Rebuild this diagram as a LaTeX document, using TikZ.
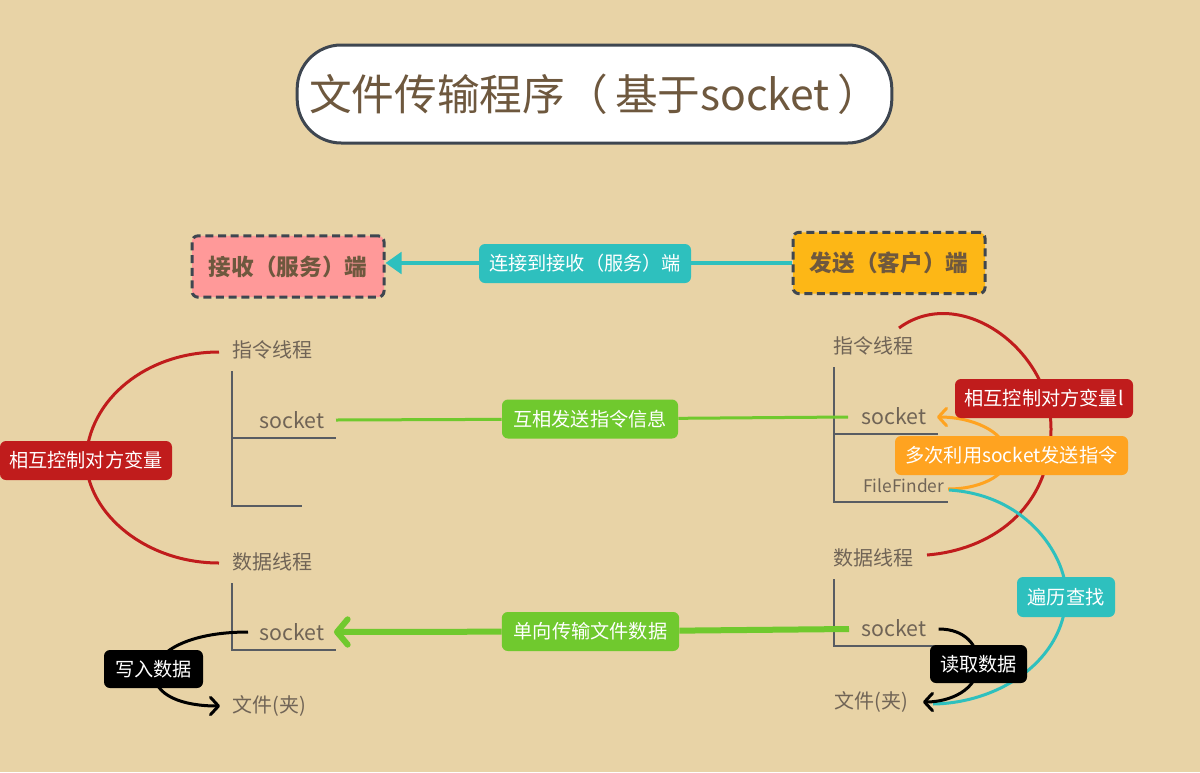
\documentclass[tikz,border=0pt]{standalone}
\usepackage{fontspec}
\setmainfont{Noto Sans CJK SC}
\usetikzlibrary{arrows.meta}
\pgfdeclarelayer{bg}
\pgfsetlayers{bg,main}
\definecolor{bgc}{RGB}{232,211,166}
\definecolor{brownt}{RGB}{110,88,62}
\definecolor{treet}{RGB}{112,100,86}
\definecolor{treel}{RGB}{88,92,98}
\definecolor{bordc}{RGB}{62,70,80}
\definecolor{pinkc}{RGB}{255,153,153}
\definecolor{yelc}{RGB}{253,183,22}
\definecolor{tealc}{RGB}{46,192,190}
\definecolor{greenc}{RGB}{112,201,46}
\definecolor{redc}{RGB}{192,28,28}
\definecolor{orangec}{RGB}{255,163,32}
\tikzset{
  lbl/.style={rounded corners=4.5pt, text=white, inner sep=0pt,
    font=\fontsize{14.4pt}{16pt}\selectfont, minimum height=29.25pt},
  endbox/.style={rounded corners=4.5pt, draw=bordc, line width=2.25pt,
    dash pattern=on 6pt off 3.5pt, inner sep=0pt, text=brownt,
    font=\fontsize{17pt}{20pt}\selectfont\bfseries, minimum width=144pt, minimum height=46pt},
  treetxt/.style={text=treet, inner sep=0pt, font=\fontsize{15pt}{18pt}\selectfont},
  socktxt/.style={text=treet, inner sep=0pt, font=\fontsize{16pt}{18pt}\selectfont},
  treeline/.style={draw=treel, line width=1.5pt},
  conn/.style={line width=2.25pt},
  barb/.style={-{Straight Barb[length=6pt,width=13pt,round]}}
}
\begin{document}
\begin{tikzpicture}[x=0.75pt,y=-0.75pt]
\useasboundingbox (0,0) rectangle (1200,772);
% title
\node[draw=bordc, line width=2.25pt, fill=white, rounded corners=33pt,
  minimum width=446pt, minimum height=73.5pt, inner sep=0pt, text=brownt,
  font=\fontsize{32pt}{36pt}\selectfont] (title) at (594.5,94) {文件传输程序（\,基于socket\,）};
% end boxes
\node[endbox, fill=pinkc] (recv) at (288,266.5) {接收（服务）端};
\node[endbox, fill=yelc] (send) at (889,263) {发送（客户）端};
\node[lbl, fill=tealc, minimum width=159pt] (conlbl) at (585,263.5) {连接到接收（服务）端};
% left tree
\node[treetxt, anchor=west] (Lcmd) at (232,350) {指令线程};
\node[socktxt] (Lsock1) at (292,420) {socket};
\node[treetxt, anchor=west] (Ldata) at (232,562) {数据线程};
\node[socktxt] (Lsock2) at (292,632) {socket};
\node[treetxt, anchor=west] (Lfile) at (232,706) {文件(夹)};
% right tree
\node[treetxt, anchor=west] (Rcmd) at (833,346) {指令线程};
\node[socktxt] (Rsock1) at (894,416) {socket};
\node[text=treet, inner sep=0pt, anchor=west, font=\fontsize{13pt}{15pt}\selectfont] (Rff) at (863,486) {FileFinder};
\node[treetxt, anchor=west] (Rdata) at (833,558) {数据线程};
\node[socktxt] (Rsock2) at (894,628) {socket};
\node[treetxt, anchor=west] (Rfile) at (834,702) {文件(夹)};
% labels
\node[lbl, fill=greenc, minimum width=132pt] (g1lbl) at (590,419) {互相发送指令信息};
\node[lbl, fill=greenc, minimum width=133pt] (g2lbl) at (590.5,631.5) {单向传输文件数据};
\node[lbl, fill=redc, minimum width=129pt] (redL) at (86,460.5) {相互控制对方变量};
\node[lbl, fill=black, minimum width=74.25pt, minimum height=28.5pt] (blkL) at (153.5,669) {写入数据};
\node[lbl, fill=redc, minimum width=133.5pt] (redR) at (1044,398.5) {相互控制对方变量l};
\node[lbl, fill=orangec, minimum width=174.75pt] (orgR) at (1011.5,455.5) {多次利用socket发送指令};
\node[lbl, fill=tealc, minimum width=73.5pt, minimum height=30pt] (tealR) at (1066,597) {遍历查找};
\node[lbl, fill=black, minimum width=72.75pt, minimum height=28.5pt] (blkR) at (978.5,664) {读取数据};
% coordinates for free ends
\coordinate (g1a) at (848,417);
\coordinate (g1b) at (336,420);
\coordinate (g2a) at (849,629);
\coordinate (g2b) at (334,632);
\coordinate (wL) at (248,632);
\coordinate (fL) at (220,706);
\begin{pgfonlayer}{bg}
\fill[bgc] (0,0) rectangle (1200,772);
% tree lines
\draw[treeline] (232,371) -- (232,506) -- (302,506);
\draw[treeline] (232,438) -- (336,438);
\draw[treeline] (232,583) -- (232,650) -- (336,650);
\draw[treeline] (834,367) -- (834,502) -- (948,502);
\draw[treeline] (834,434) -- (938,434);
\draw[treeline] (834,579) -- (834,646) -- (938,646);
% connectors
\draw[tealc, line width=3pt, -{Triangle[length=12pt,width=16pt]}] (send.west) -- (recv.east |- send.west);
\draw[greenc, line width=2.25pt] (g1a) -- (g1lbl) -- (g1b);
\draw[greenc, line width=4.5pt, -{Straight Barb[length=8pt,width=19pt,round]}] (g2a) -- (g2lbl) -- (g2b);
% left red
\draw[redc, conn] (219,352) .. controls (147,352) and (88,399) .. (redL.center) .. controls (88,515) and (147,563) .. (219,563);
% left black
\draw[black, conn, barb] (wL) .. controls (200,632) and (163,645) .. (blkL.center) .. controls (152,697) and (185,706) .. (fL);
% right red
\draw[redc, conn] (899,328) .. controls (960,283) and (1052,350) .. (1051,430) .. controls (1050,510) and (990,550) .. (927,555);
% orange
\draw[orangec, conn, barb] (948,489) .. controls (985,489) and (1010,472) .. (1008,455) .. controls (1005,430) and (970,417) .. (937,417);
% teal right
\draw[tealc, conn] (949,490) .. controls (1030,495) and (1068,560) .. (tealR.center) .. controls (1064,660) and (1000,703) .. (933,704);
% right black
\draw[black, conn, barb] (Rsock2.east) ++(12,1) .. controls (965,629) and (978,645) .. (blkR.center) .. controls (978,690) and (950,702) .. (923,702);
\end{pgfonlayer}
\end{tikzpicture}
\end{document}
